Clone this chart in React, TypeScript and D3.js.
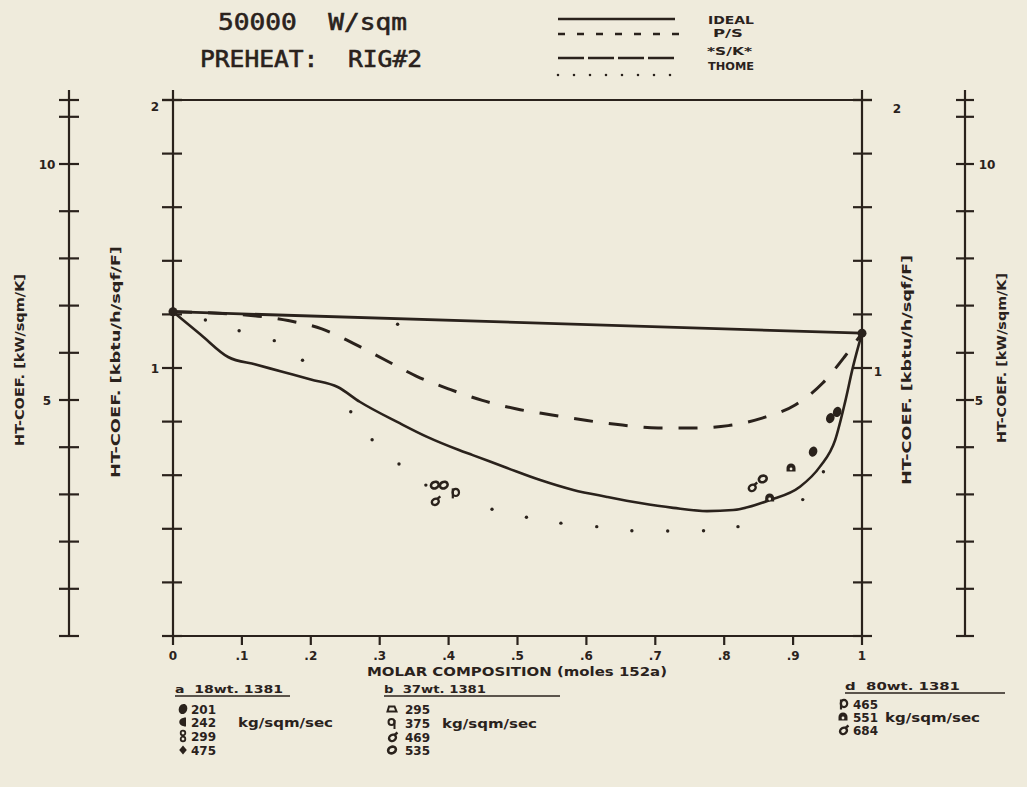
import React from "react";
import * as d3 from "d3";

// ---------- data ----------
const xTickValues = [0, 0.1, 0.2, 0.3, 0.4, 0.5, 0.6, 0.7, 0.8, 0.9, 1];
const xTickLabels = ["0", ".1", ".2", ".3", ".4", ".5", ".6", ".7", ".8", ".9", "1"];
const yTickValues = [0, 0.2, 0.4, 0.6, 0.8, 1, 1.2, 1.4, 1.6, 1.8, 2];
const yLabelled = [{ v: 1, t: "1" }, { v: 2, t: "2" }];
const kTickValues = [0, 1, 2, 3, 4, 5, 6, 7, 8, 9, 10, 11];
const kLabelled = [{ v: 5, t: "5" }, { v: 10, t: "10" }];
const kMax = 2 * 5.678; // kW/sqm/K equivalent of 2 kbtu/h/sqf/F

const idealX = [0, 1];
const idealY = [1.21, 1.13];

const lowerX = [0, 0.04, 0.08, 0.12, 0.16, 0.2, 0.239, 0.271, 0.329, 0.368, 0.415, 0.435, 0.485, 0.533, 0.581, 0.63, 0.678, 0.726, 0.775, 0.813, 0.866, 0.91, 0.939, 0.961, 0.975, 0.987, 1];
const lowerY = [1.21, 1.125, 1.041, 1.013, 0.985, 0.957, 0.929, 0.874, 0.794, 0.744, 0.694, 0.675, 0.627, 0.582, 0.545, 0.519, 0.496, 0.478, 0.466, 0.47, 0.507, 0.557, 0.632, 0.731, 0.868, 1.005, 1.13];

const skX = [0, 0.113, 0.167, 0.216, 0.261, 0.308, 0.353, 0.402, 0.449, 0.499, 0.55, 0.601, 0.652, 0.704, 0.753, 0.806, 0.855, 0.903, 0.943, 0.975, 1];
const skY = [1.21, 1.196, 1.177, 1.146, 1.093, 1.03, 0.97, 0.92, 0.879, 0.847, 0.825, 0.804, 0.787, 0.776, 0.776, 0.785, 0.813, 0.862, 0.944, 1.043, 1.13];

const thomeX = [0.047, 0.096, 0.147, 0.188, 0.258, 0.289, 0.328, 0.367, 0.463, 0.513, 0.563, 0.615, 0.666, 0.718, 0.77, 0.82, 0.914, 0.944];
const thomeY = [1.179, 1.139, 1.102, 1.029, 0.837, 0.732, 0.642, 0.563, 0.473, 0.443, 0.421, 0.408, 0.393, 0.392, 0.393, 0.408, 0.509, 0.613];

const psX = [0.326];
const psY = [1.163];

const expX = [0.38, 0.393, 0.409, 0.38, 0.84, 0.856, 0.866, 0.897, 0.929, 0.954, 0.964];
const expY = [0.563, 0.563, 0.534, 0.504, 0.556, 0.586, 0.515, 0.627, 0.688, 0.813, 0.836];
const expGlyph = ["ring", "ring", "p", "sigma", "sigma", "ring", "a", "a", "fill", "fill", "fill"];

const groupA = { head: "a  18wt. 1381", vals: ["201", "242  kg/sqm/sec", "299", "475"], glyphs: ["fill", "half", "eight", "diamond"] };
const groupB = { head: "b  37wt. 1381", vals: ["295", "375  kg/sqm/sec", "469", "535"], glyphs: ["trap", "q", "sigma", "ring"] };
const groupD = { head: "d  80wt. 1381", vals: ["465", "551  kg/sqm/sec", "684"], glyphs: ["p", "a", "sigma"] };

const legendNames = ["IDEAL", "P/S", "*S/K*", "THOME"];

// ---------- style ----------
const BG = "#efebdc";
const INK = "#2a221c";
const FONT = "'DejaVu Sans', Verdana, sans-serif";
const MONO = "'DejaVu Sans Mono', monospace";

const x = d3.scaleLinear().domain([0, 1]).range([173, 862]);
const y = d3.scaleLinear().domain([0, 2]).range([636, 100]);
const yk = d3.scaleLinear().domain([0, kMax]).range([636, 100]);

function Glyph({ type, cx, cy }: { type: string; cx: number; cy: number }) {
  let body: React.ReactNode = null;
  if (type === "ring") body = <ellipse rx={4} ry={3.2} fill="none" stroke={INK} strokeWidth={2.6} transform="rotate(-25)" />;
  else if (type === "fill") body = <ellipse rx={4.2} ry={5.2} fill={INK} transform="rotate(20)" />;
  else if (type === "half") body = <path d="M3,-4.5 C-6,-4.5 -6,4.5 3,4.5 Z" fill={INK} />;
  else if (type === "eight") body = (<g fill="none" stroke={INK} strokeWidth={1.8}><circle cx={0} cy={-3} r={2.3} /><circle cx={0} cy={3} r={2.3} /></g>);
  else if (type === "diamond") body = <path d="M0,-4.5 L3.8,0 L0,4.5 L-3.8,0Z" fill={INK} />;
  else if (type === "trap") body = <path d="M-4.5,2.5 L4.5,2.5 L2.5,-2.5 L-3,-2.5Z" fill="none" stroke={INK} strokeWidth={2} />;
  else if (type === "q") body = (<g stroke={INK} strokeWidth={2} fill="none"><circle cx={-0.5} cy={-1} r={3} /><line x1={2.5} y1={-3} x2={2.5} y2={6} /></g>);
  else if (type === "p") body = (<g stroke={INK} strokeWidth={2.2} fill="none"><ellipse cx={1} cy={-0.5} rx={3.2} ry={3.6} /><line x1={-2} y1={-4.5} x2={-2} y2={5.5} /></g>);
  else if (type === "sigma") body = (<g stroke={INK} strokeWidth={2.4} fill="none"><ellipse cx={0} cy={1} rx={3.6} ry={3} transform="rotate(-30)" /><line x1={2.5} y1={-2} x2={5.5} y2={-4.5} /></g>);
  else if (type === "a") body = (<g><path d="M-4.5,3.5 L-4.5,0 A4.5,4.5 0 0 1 4.5,0 L4.5,3.5 Z" fill={INK} /><circle cx={0} cy={1} r={1.4} fill={BG} /></g>);
  return <g transform={`translate(${cx},${cy})`}>{body}</g>;
}

function VAxis({ ax, scale, ticks, left, right }: { ax: number; scale: any; ticks: number[]; left: number; right: number }) {
  const [r0, r1] = scale.range();
  return (
    <g stroke={INK} strokeWidth={2.2}>
      <line x1={ax} x2={ax} y1={r1 - 10} y2={r0} />
      {ticks.map((t) => (
        <line key={t} x1={ax - left} x2={ax + right} y1={scale(t)} y2={scale(t)} />
      ))}
      <line x1={ax - left} x2={ax + right} y1={r1} y2={r1} />
    </g>
  );
}

function RotLabel({ cx, cy, len, text }: { cx: number; cy: number; len: number; text: string }) {
  return (
    <text transform={`translate(${cx},${cy}) rotate(-90)`} textAnchor="middle" dominantBaseline="central"
      fontFamily={FONT} fontWeight="bold" fontSize={12} fill={INK} textLength={len} lengthAdjust="spacingAndGlyphs">
      {text}
    </text>
  );
}

function Group({ g, x0, head, under, textX, glyphX, kgX, rows, headY }: any) {
  return (
    <g>
      <text x={x0} y={headY} fontFamily={FONT} fontWeight="bold" fontSize={11} fill={INK} textLength={head} lengthAdjust="spacingAndGlyphs" xmlSpace="preserve">{g.head}</text>
      <line x1={x0} x2={under} y1={headY + 3} y2={headY + 3} stroke={INK} strokeWidth={1.6} />
      {g.vals.map((v: string, i: number) => {
        const parts = v.split("  ");
        return (
          <g key={i}>
            <Glyph type={g.glyphs[i]} cx={glyphX} cy={rows[i] - 5} />
            <text x={textX} y={rows[i]} fontFamily={FONT} fontWeight="bold" fontSize={12} fill={INK}>{parts[0]}</text>
            {parts[1] && <text x={kgX} y={rows[i]} fontFamily={FONT} fontWeight="bold" fontSize={12} fill={INK} textLength={95} lengthAdjust="spacingAndGlyphs">{parts[1]}</text>}
          </g>
        );
      })}
    </g>
  );
}

export default function App() {
  const toPts = (xs: number[], ys: number[]) => xs.map((v, i) => [v, ys[i]] as [number, number]);
  const idealPath = d3.line<[number, number]>().x((d) => x(d[0])).y((d) => y(d[1]))(toPts(idealX, idealY)) || "";
  const lowerPath = d3.line<[number, number]>().x((d) => x(d[0])).y((d) => y(d[1])).curve(d3.curveMonotoneX)(toPts(lowerX, lowerY)) || "";
  const skPath = d3.line<[number, number]>().x((d) => x(d[0])).y((d) => y(d[1])).curve(d3.curveMonotoneX)(toPts(skX, skY)) || "";

  const legendRows = [
    { ly: 19, ty: 24, dash: "none", x2: 675, name: legendNames[0], tx: 708, tl: 46 },
    { ly: 34, ty: 37, dash: "7 12", x2: 682, name: legendNames[1], tx: 713, tl: 30 },
    { ly: 58, ty: 55, dash: "26 4", x2: 675, name: legendNames[2], tx: 707, tl: 45 },
    { ly: 75, ty: 70, dash: "0 16", x2: 675, name: legendNames[3], tx: 708, tl: 46 },
  ];

  return (
    <div style={{ position: "fixed", left: 0, top: 0, width: 1027, height: 787 }}>
      <svg width={1027} height={787} style={{ display: "block" }}>
        <rect x={0} y={0} width={1027} height={787} fill={BG} />

        {/* titles */}
        <text x={218} y={30} fontFamily={MONO} fontSize={23} fill={INK} stroke={INK} strokeWidth={0.6} textLength={189} lengthAdjust="spacingAndGlyphs" xmlSpace="preserve">50000  W/sqm</text>
        <text x={200} y={67} fontFamily={MONO} fontSize={23} fill={INK} stroke={INK} strokeWidth={0.6} textLength={222} lengthAdjust="spacingAndGlyphs" xmlSpace="preserve">PREHEAT:  RIG#2</text>

        {/* legend */}
        {legendRows.map((r, i) => (
          <g key={i}>
            <line x1={558} x2={r.x2} y1={r.ly} y2={r.ly} stroke={INK} strokeWidth={i === 3 ? 2.6 : 2.4}
              strokeDasharray={r.dash === "none" ? undefined : r.dash} strokeLinecap={i === 3 ? "round" : "butt"} />
            <text x={r.tx} y={r.ty} fontFamily={FONT} fontWeight="bold" fontSize={11} fill={INK} textLength={r.tl} lengthAdjust="spacingAndGlyphs">{r.name}</text>
          </g>
        ))}

        {/* frame */}
        <g stroke={INK} strokeWidth={2.2}>
          <line x1={x(0)} x2={x(1)} y1={y(2)} y2={y(2)} />
          <line x1={x(0)} x2={x(1)} y1={y(0)} y2={y(0)} />
          {xTickValues.map((t) => (
            <line key={t} x1={x(t)} x2={x(t)} y1={y(0)} y2={y(0) + 9} />
          ))}
        </g>
        <VAxis ax={x(0)} scale={y} ticks={yTickValues} left={11} right={9} />
        <VAxis ax={x(1)} scale={y} ticks={yTickValues} left={9} right={10} />
        <VAxis ax={69} scale={yk} ticks={kTickValues} left={10} right={10} />
        <VAxis ax={965} scale={yk} ticks={kTickValues} left={9} right={9} />

        {/* tick labels */}
        <g fontFamily={FONT} fontWeight="bold" fontSize={12} fill={INK}>
          {xTickValues.map((t, i) => (
            <text key={t} x={x(t)} y={660} textAnchor="middle">{xTickLabels[i]}</text>
          ))}
          {yLabelled.map((d) => (
            <text key={"l" + d.t} x={155} y={y(d.v) + (d.v === 2 ? 11 : 5)} textAnchor="middle">{d.t}</text>
          ))}
          {yLabelled.map((d) => (
            <text key={"r" + d.t} x={d.v === 2 ? 897 : 878} y={y(d.v) + (d.v === 2 ? 13 : 8)} textAnchor="middle">{d.t}</text>
          ))}
          {kLabelled.map((d) => (
            <text key={"kl" + d.t} x={47} y={yk(d.v) + 5} textAnchor="middle">{d.t}</text>
          ))}
          {kLabelled.map((d) => (
            <text key={"kr" + d.t} x={d.v === 5 ? 979 : 987} y={yk(d.v) + 5} textAnchor="middle">{d.t}</text>
          ))}
        </g>

        {/* axis titles */}
        <RotLabel cx={20} cy={360} len={172} text="HT-COEF.   [kW/sqm/K]" />
        <RotLabel cx={116} cy={362} len={232} text="HT-COEF.  [kbtu/h/sqf/F]" />
        <RotLabel cx={907} cy={370} len={230} text="HT-COEF.  [kbtu/h/sqf/F]" />
        <RotLabel cx={1002} cy={358} len={170} text="HT-COEF.   [kW/sqm/K]" />
        <text x={367} y={676} fontFamily={FONT} fontWeight="bold" fontSize={12} fill={INK} textLength={300} lengthAdjust="spacingAndGlyphs">MOLAR COMPOSITION  (moles 152a)</text>

        {/* curves */}
        <path d={idealPath} fill="none" stroke={INK} strokeWidth={2.8} />
        <path d={lowerPath} fill="none" stroke={INK} strokeWidth={2.6} />
        <path d={skPath} fill="none" stroke={INK} strokeWidth={3} strokeDasharray="19 16" />
        {thomeX.map((v, i) => (
          <circle key={"t" + i} cx={x(v)} cy={y(thomeY[i])} r={1.7} fill={INK} />
        ))}
        {psX.map((v, i) => (
          <circle key={"p" + i} cx={x(v)} cy={y(psY[i])} r={1.7} fill={INK} />
        ))}
        {idealX.map((v, i) => (
          <circle key={"e" + i} cx={x(v)} cy={y(idealY[i])} r={4.5} fill={INK} />
        ))}
        {expX.map((v, i) => (
          <Glyph key={"g" + i} type={expGlyph[i]} cx={x(v)} cy={y(expY[i])} />
        ))}

        {/* bottom legends */}
        <Group g={groupA} x0={175} head={108} under={290} textX={191} glyphX={183} kgX={238} rows={[714, 727, 741, 755]} headY={693} />
        <Group g={groupB} x0={384} head={102} under={560} textX={405} glyphX={392} kgX={442} rows={[714, 728, 742, 755]} headY={693} />
        <Group g={groupD} x0={845} head={115} under={1005} textX={853} glyphX={843} kgX={885} rows={[709, 722, 735]} headY={690} />
      </svg>
    </div>
  );
}
